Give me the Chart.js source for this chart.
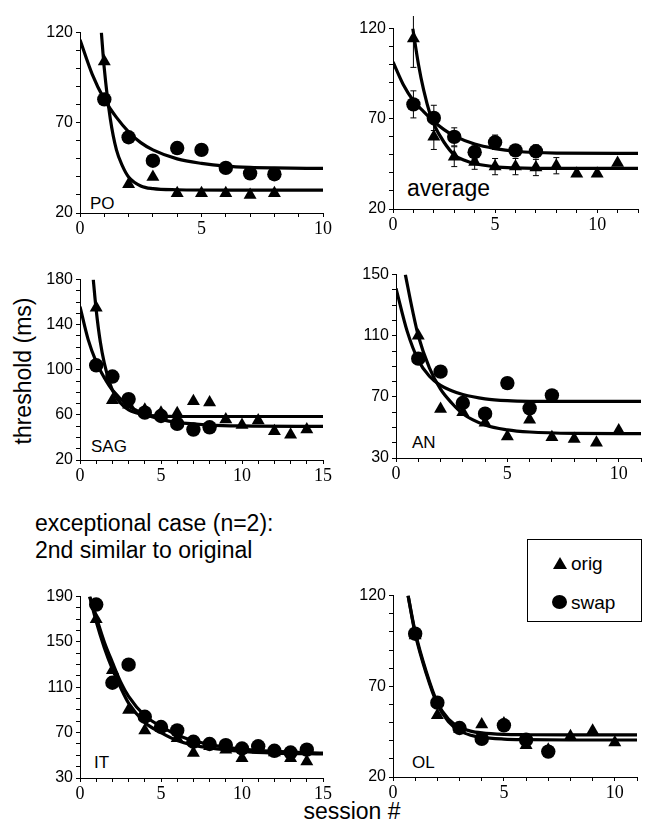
<!DOCTYPE html>
<html>
<head>
<meta charset="utf-8">
<script src="https://cdn.jsdelivr.net/npm/chart.js@4.4.1/dist/chart.umd.min.js"></script>
<style>
  body { margin: 0; background: #fff; }
  #page { position: relative; width: 645px; height: 834px; overflow: hidden; font-family: 'Liberation Sans', Arial, sans-serif; color: #000; }
  .panel { position: absolute; }
  .txt { position: absolute; white-space: nowrap; line-height: 1; }
  #legend { position: absolute; left: 527px; top: 539px; width: 113px; height: 81px; border: 1px solid #000; }
  .tri { position: absolute; width: 0; height: 0; border-left: 7px solid transparent; border-right: 7px solid transparent; border-bottom: 12px solid #000; }
  .dot { position: absolute; width: 15px; height: 14px; border-radius: 50%; background: #000; }
</style>
</head>
<body>
<div id="page">
  <div class="txt" style="left:23px; top:371px; font-size:23px; transform:translate(-50%,-50%) rotate(-90deg);">threshold (ms)</div>
  <div class="txt" style="left:252px; width:200px; text-align:center; top:800px; font-size:23px;">session #</div>
  <div class="txt" style="left:35px; top:512px; font-size:23px;">exceptional case (n=2):</div>
  <div class="txt" style="left:35px; top:539px; font-size:23px;">2nd similar to original</div>
  <div class="txt" style="left:90px; top:195px; font-size:17px;">PO</div>
  <div class="txt" style="left:407px; top:177px; font-size:23px;">average</div>
  <div class="txt" style="left:91px; top:438px; font-size:17px;">SAG</div>
  <div class="txt" style="left:412px; top:434px; font-size:17px;">AN</div>
  <div class="txt" style="left:94px; top:754px; font-size:17px;">IT</div>
  <div class="txt" style="left:412px; top:754px; font-size:17px;">OL</div>
  <div id="legend">
    <div class="tri" style="left:25px; top:17px;"></div>
    <div class="txt" style="left:43px; top:14px; font-size:19px;">orig</div>
    <div class="dot" style="left:24px; top:55px;"></div>
    <div class="txt" style="left:43px; top:53px; font-size:19px;">swap</div>
  </div>
</div>
<script>
// ---- data ----
// PO
const poSess = [1, 2, 3, 4, 5, 6, 7, 8];
const poOrig = [104, 36, 40, 31, 31, 31, 30, 31];
const poSwap = [83, 62, 49, 56, 55, 45, 42, 41.5];
const poOrigFitX = [0.88, 1, 1.25, 1.5, 1.75, 2, 2.5, 3, 4, 6, 10];
const poOrigFitY = [120, 100, 72, 55, 46, 40, 35, 33.5, 32.9, 32.7, 32.7];
const poSwapFitX = [0, 0.5, 1, 1.5, 2, 2.5, 3, 4, 5, 6, 7, 8, 10];
const poSwapFitY = [116, 97, 83, 73, 65, 59, 55, 50, 47.5, 46, 45.3, 45, 44.7];

// average (with error bars)
const avgOrigSess = [1, 2, 3, 4, 5, 6, 7, 8, 9, 10, 11];
const avgOrig = [114.5, 60, 49, 46, 43.5, 43.5, 43, 44, 39.5, 39.5, 45.5];
const avgOrigErr = [16, 7, 5.5, 4, 4.5, 4.5, 4.5, 4.5, 0, 0, 0];
const avgSwapSess = [1, 2, 3, 4, 5, 6, 7];
const avgSwap = [78, 70.5, 60, 51.5, 57, 52.5, 52];
const avgSwapErr = [7.5, 7, 5, 4, 4, 3, 3.5];
const avgOrigFitX = [0.97, 1.25, 1.5, 1.83, 2, 2.5, 3, 3.5, 4, 5, 6, 8, 12];
const avgOrigFitY = [120, 100, 86, 72, 67, 57, 50, 47, 45.2, 43.4, 42.8, 42.5, 42.5];
const avgSwapFitX = [0, 0.5, 1, 1.5, 2, 2.5, 3, 4, 5, 6, 8, 12];
const avgSwapFitY = [101.5, 89, 80, 74, 68.5, 64, 60.5, 56, 53.5, 52, 51, 50.8];

// SAG
const sagOrigSess = [1, 2, 3, 4, 5, 6, 7, 8, 9, 10, 11, 12, 13, 14];
const sagOrig = [155, 73, 69, 64.5, 62, 61.5, 72, 71, 56, 51, 55, 45.5, 42.5, 47];
const sagSwapSess = [1, 2, 3, 4, 5, 6, 7, 8];
const sagSwap = [104, 94, 74, 62, 59, 52, 47, 49];
const sagOrigFitX = [0.82, 1, 1.25, 1.5, 2, 2.5, 3, 4, 5, 7, 15];
const sagOrigFitY = [180, 153, 125, 106, 82, 70.5, 64.5, 60, 59, 58.6, 58.6];
const sagSwapFitX = [0, 0.5, 1, 1.5, 2, 3, 4, 5, 6, 8, 10, 15];
const sagSwapFitY = [156, 127, 107, 93, 82, 68, 60.5, 56, 53.3, 51, 50.2, 49.8];

// AN
const anOrigSess = [1, 2, 3, 4, 5, 6, 7, 8, 9, 10];
const anOrig = [110, 62, 60, 53, 44, 55, 43.5, 42.5, 40, 48];
const anSwapSess = [1, 2, 3, 4, 5, 6, 7];
const anSwap = [95, 86.5, 66, 59, 79, 62.5, 71];
const anOrigFitX = [0.42, 0.75, 1, 1.5, 2, 2.5, 3, 4, 5, 6, 8, 11];
const anOrigFitY = [150, 126, 110, 89, 75, 66, 59, 51.6, 48.4, 47, 46.1, 45.9];
const anSwapFitX = [0, 0.5, 1, 1.5, 2, 2.5, 3, 4, 5, 6, 8, 11];
const anSwapFitY = [141, 113, 94, 83.5, 77.5, 74, 71.5, 68.7, 67.5, 67.1, 67, 67];

// IT
const itSess = [1, 2, 3, 4, 5, 6, 7, 8, 9, 10, 11, 12, 13, 14];
const itOrig = [170, 125, 90, 72, 74, 65, 52, 58, 55, 47.5, 55, 52.5, 47.5, 44.5];
const itSwap = [183, 114, 130, 84, 75, 72, 62, 60, 59, 56, 58, 54, 52.5, 55];
const itFitX = [0.6, 1, 1.5, 2, 2.5, 3, 4, 5, 6, 7, 8, 10, 12, 15];
const itOrigFitY = [190, 168, 145, 126, 110, 96, 79, 70, 63, 59, 56.5, 53.5, 52, 51.2];
const itSwapFitY = [190, 172, 150, 132, 115, 102, 85, 75.5, 68, 63, 59.5, 55.5, 53.5, 52];

// OL
const olOrigSess = [1, 2, 3, 4, 5, 6, 7, 8, 9, 10];
const olOrig = [98, 54, 46.5, 49, 49.5, 37.5, 35, 42.5, 45.5, 39];
const olSwapSess = [1, 2, 3, 4, 5, 6, 7];
const olSwap = [99, 61, 47, 41, 48.5, 40.5, 34];
const olFitX = [0.68, 1, 1.5, 2, 2.5, 3, 3.5, 4, 5, 6, 8, 11];
const olOrigFitY = [120, 100, 78, 61, 52, 47.5, 45.3, 44.3, 43.5, 43.3, 43.2, 43.2];
const olSwapFitY = [120, 99, 77, 60, 50.5, 45.5, 43, 41.8, 40.9, 40.6, 40.4, 40.4];

// ---- helpers ----
function pts(xs, ys) {
  return xs.map((x, i) => ({ x: x, y: ys[i] }));
}

// draws vertical error bars for datasets that carry an `err` array
const errorBars = {
  id: 'errorBars',
  afterDatasetsDraw(chart) {
    const ctx = chart.ctx;
    const xs = chart.scales.x, ys = chart.scales.y;
    ctx.save();
    ctx.strokeStyle = '#000';
    ctx.lineWidth = 1;
    chart.data.datasets.forEach(ds => {
      if (!ds.err) return;
      ds.data.forEach((p, i) => {
        const e = ds.err[i];
        if (!e) return;
        const px = xs.getPixelForValue(p.x);
        const top = ys.getPixelForValue(p.y + e);
        const bot = ys.getPixelForValue(p.y - e);
        ctx.beginPath();
        ctx.moveTo(px, top); ctx.lineTo(px, bot);
        ctx.moveTo(px - 3, top); ctx.lineTo(px + 3, top);
        ctx.moveTo(px - 3, bot); ctx.lineTo(px + 3, bot);
        ctx.stroke();
      });
    });
    ctx.restore();
  }
};

const PAD_L = 60, PAD_T = 12, PAD_R = 14, PAD_B = 34;

function makePanel(p) {
  const w = p.box[2] - p.box[0], h = p.box[3] - p.box[1];
  const div = document.createElement('div');
  div.className = 'panel';
  div.style.left = (p.box[0] - PAD_L) + 'px';
  div.style.top = (p.box[1] - PAD_T) + 'px';
  const cv = document.createElement('canvas');
  cv.width = w + PAD_L + PAD_R;
  cv.height = h + PAD_T + PAD_B;
  cv.style.width = cv.width + 'px';
  cv.style.height = cv.height + 'px';
  div.appendChild(cv);
  document.getElementById('page').appendChild(div);

  const fit = (xs, ys) => ({
    data: pts(xs, ys), showLine: true, pointRadius: 0, borderColor: '#000',
    borderWidth: 3.2, cubicInterpolationMode: 'monotone', fill: false
  });

  new Chart(cv, {
    type: 'scatter',
    data: {
      datasets: [
        { data: pts(p.origX, p.orig), err: p.origErr, pointStyle: 'triangle', pointRadius: 7.5,
          backgroundColor: '#000', borderColor: '#000', borderWidth: 0, clip: false },
        { data: pts(p.swapX, p.swap), err: p.swapErr, pointStyle: 'circle', pointRadius: 7.2,
          backgroundColor: '#000', borderColor: '#000', borderWidth: 0, clip: false },
        fit(p.origFitX, p.origFitY),
        fit(p.swapFitX, p.swapFitY)
      ]
    },
    options: {
      responsive: false,
      animation: false,
      layout: { padding: { left: 0, top: PAD_T, right: PAD_R, bottom: 0 } },
      plugins: { legend: { display: false }, tooltip: { enabled: false } },
      scales: {
        x: {
          type: 'linear', min: 0, max: p.xMax,
          afterFit(s) { s.height = PAD_B; },
          border: { display: true, color: '#000', width: 1 },
          grid: { drawOnChartArea: false, drawTicks: true, tickLength: 4, tickColor: '#000' },
          ticks: {
            stepSize: 1, autoSkip: false, maxRotation: 0, padding: 1, color: '#000',
            font: { family: 'Liberation Serif', size: 18 },
            callback: v => (v % 5 === 0 ? String(v) : '')
          }
        },
        y: {
          type: 'linear', min: p.yMin, max: p.yMax,
          afterFit(s) { s.width = PAD_L; },
          border: { display: true, color: '#000', width: 1 },
          grid: { drawOnChartArea: false, drawTicks: true, tickLength: 4, tickColor: '#000' },
          ticks: {
            stepSize: 10, autoSkip: false, padding: 3, color: '#000',
            font: { family: 'Liberation Sans', size: 16 },
            callback: v => ((v - p.yMin) % p.yLabelStep === 0 ? String(v) : '')
          }
        }
      }
    },
    plugins: [errorBars]
  });
}

const panels = [
  { box: [80, 32, 323, 213], xMax: 10, yMin: 20, yMax: 120, yLabelStep: 50,
    origX: poSess, orig: poOrig, swapX: poSess, swap: poSwap,
    origFitX: poOrigFitX, origFitY: poOrigFitY, swapFitX: poSwapFitX, swapFitY: poSwapFitY },
  { box: [393, 28, 638, 209], xMax: 12, yMin: 20, yMax: 120, yLabelStep: 50,
    origX: avgOrigSess, orig: avgOrig, origErr: avgOrigErr, swapX: avgSwapSess, swap: avgSwap, swapErr: avgSwapErr,
    origFitX: avgOrigFitX, origFitY: avgOrigFitY, swapFitX: avgSwapFitX, swapFitY: avgSwapFitY },
  { box: [80, 279, 323, 460], xMax: 15, yMin: 20, yMax: 180, yLabelStep: 40,
    origX: sagOrigSess, orig: sagOrig, swapX: sagSwapSess, swap: sagSwap,
    origFitX: sagOrigFitX, origFitY: sagOrigFitY, swapFitX: sagSwapFitX, swapFitY: sagSwapFitY },
  { box: [396, 274, 641, 458], xMax: 11, yMin: 30, yMax: 150, yLabelStep: 40,
    origX: anOrigSess, orig: anOrig, swapX: anSwapSess, swap: anSwap,
    origFitX: anOrigFitX, origFitY: anOrigFitY, swapFitX: anSwapFitX, swapFitY: anSwapFitY },
  { box: [80, 596, 323, 778], xMax: 15, yMin: 30, yMax: 190, yLabelStep: 40,
    origX: itSess, orig: itOrig, swapX: itSess, swap: itSwap,
    origFitX: itFitX, origFitY: itOrigFitY, swapFitX: itFitX, swapFitY: itSwapFitY },
  { box: [393, 595, 637, 777], xMax: 11, yMin: 20, yMax: 120, yLabelStep: 50,
    origX: olOrigSess, orig: olOrig, swapX: olSwapSess, swap: olSwap,
    origFitX: olFitX, origFitY: olOrigFitY, swapFitX: olFitX, swapFitY: olSwapFitY }
];

panels.forEach(makePanel);
</script>
</body>
</html>
